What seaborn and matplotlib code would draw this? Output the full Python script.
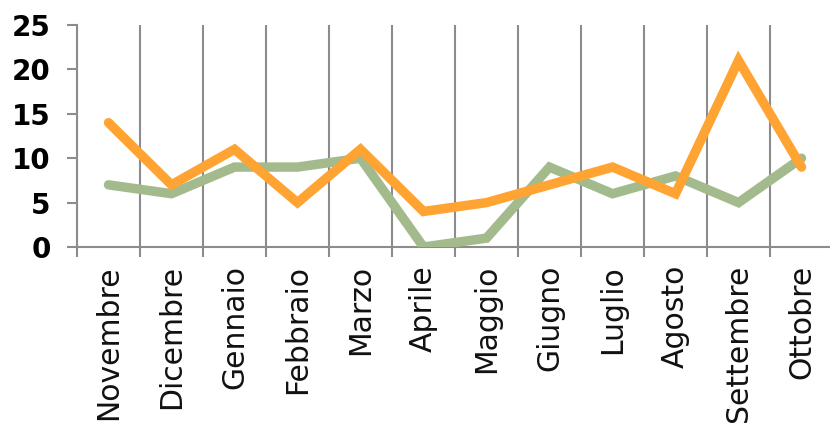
import numpy as np
import pandas as pd
import matplotlib
matplotlib.use("Agg")
import matplotlib.pyplot as plt
import seaborn as sns

months = ["Novembre", "Dicembre", "Gennaio", "Febbraio", "Marzo", "Aprile",
          "Maggio", "Giugno", "Luglio", "Agosto", "Settembre", "Ottobre"]
serie_verde = [7, 6, 9, 9, 10, 0, 1, 9, 6, 8, 5, 10]
serie_arancio = [14, 7, 11, 5, 11, 4, 5, 7, 9, 6, 21, 9]
y_ticks = [0, 5, 10, 15, 20, 25]

sns.set_theme(style="white")
plt.rcParams["font.family"] = ["DejaVu Sans"]

df = pd.DataFrame({
    "idx": list(range(len(months))) * 2,
    "valore": serie_verde + serie_arancio,
    "serie": ["verde"] * len(months) + ["arancio"] * len(months),
})

fig = plt.figure(figsize=(8.30, 4.41), dpi=100)
ax = fig.add_axes([77 / 830, 194 / 441, 756 / 830, 222 / 441])

sns.lineplot(data=df, x="idx", y="valore", hue="serie",
             palette={"verde": "#a3bb8c", "arancio": "#ffa332"},
             hue_order=["verde", "arancio"], linewidth=6.8,
             solid_capstyle="round", solid_joinstyle="miter",
             legend=False, ax=ax, zorder=3)

grid_c = "#8c8c8c"
ax.set_xlim(-0.5, len(months) - 0.5)
ax.set_ylim(0, 25)
ax.set_yticks(y_ticks)
ax.set_yticklabels([str(t) for t in y_ticks], fontsize=20, fontweight="bold",
                   color="#000000")

ax.set_xticks(np.arange(len(months)))
ax.set_xticklabels(months, rotation=90, fontsize=21.5, color="#111111")
ax.set_xticks(np.arange(len(months) + 1) - 0.5, minor=True)
ax.tick_params(axis="x", which="major", length=0, pad=13)
ax.tick_params(axis="x", which="minor", length=7, width=1.5, color=grid_c,
               direction="out", bottom=True)
ax.tick_params(axis="y", which="major", length=7, width=1.5, color=grid_c,
               direction="out", left=True, pad=12)
ax.grid(False)
ax.grid(True, axis="x", which="minor", color=grid_c, linewidth=1.5, zorder=1)

for side in ["top", "right"]:
    ax.spines[side].set_visible(False)
for side in ["left", "bottom"]:
    ax.spines[side].set_color(grid_c)
    ax.spines[side].set_linewidth(1.5)

ax.set_xlabel("")
ax.set_ylabel("")

fig.savefig("out.png", dpi=100)
